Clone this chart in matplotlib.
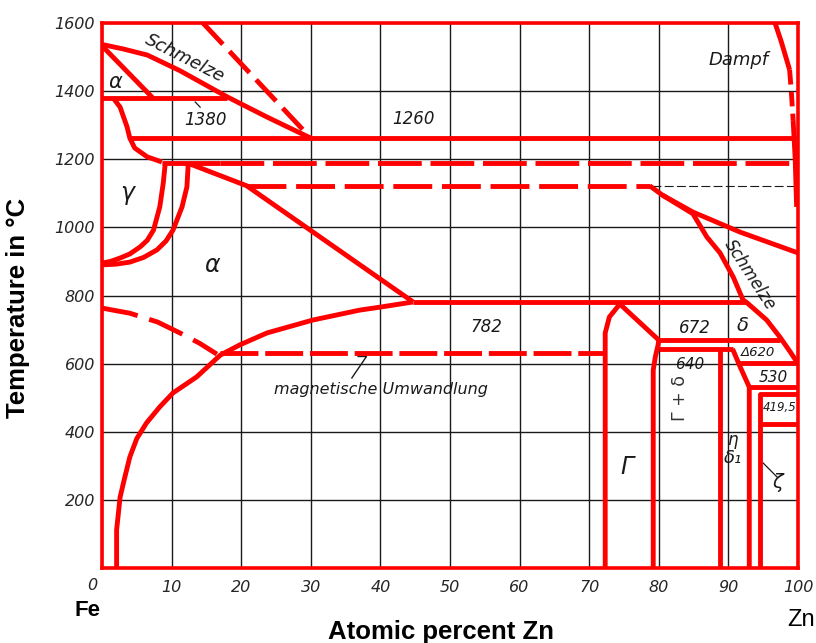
import matplotlib
matplotlib.use('Agg')
import matplotlib.pyplot as plt

RED = '#ff0000'
INK = '#1a1a1a'

# phase boundaries as (atomic % Zn, temperature in C)
liquidus_fe = [(0, 1537), (3, 1524), (6.5, 1506), (11.2, 1460), (18, 1383), (23.7, 1324), (30, 1262)]
delta_solidus = [(0, 1533), (7.3, 1380)]
line_1380 = [(0, 1380), (18, 1380)]
delta_gamma = [(1.6, 1380), (2.6, 1353), (3.6, 1295), (4.0, 1262), (4.7, 1233),
               (6.5, 1207), (8.6, 1192)]
line_1260 = [(4.1, 1262), (100, 1262)]
line_1190_solid = [(8.6, 1190), (17, 1190)]
line_1190_dash = [(17, 1190), (99.5, 1190)]
gamma_left = [(9.1, 1190), (8.8, 1130), (8.3, 1060), (7.4, 992), (6.5, 962), (5.5, 943),
              (4, 922), (2.6, 910), (1.2, 900), (0, 895)]
gamma_right = [(12.4, 1190), (12.2, 1119), (11.5, 1060), (10.2, 992), (9.2, 960), (7.9, 934),
               (6, 912), (4.0, 898), (2, 892), (0, 890)]
alpha_upper = [(12.4, 1188), (20.8, 1122), (44.7, 781)]
line_1120_dash = [(20.8, 1122), (78.7, 1122)]
melt_upper = [(78.7, 1122), (80.5, 1095), (84.9, 1045), (91.7, 986), (100, 925)]
melt_lower = [(80.5, 1095), (84.9, 1040), (86.9, 972), (88.8, 925), (90.7, 854), (92.1, 787),
              (92.6, 780), (95.5, 728), (97.4, 678), (98.9, 634), (99.9, 603)]
line_782 = [(44.7, 781), (92.6, 781)]
alpha_solvus = [(44.7, 781), (40, 766), (37, 757), (30.3, 728), (23.7, 690), (19.8, 655), (17, 625),
                (13.6, 561), (10.2, 514), (8.3, 473), (6.4, 426), (5, 380), (4, 326), (3.2, 260),
                (2.6, 208), (2.3, 150), (2.1, 112), (2.1, 0)]
magnetic_curve = [(0, 763), (4, 748), (8, 722), (11.2, 690), (14, 660), (16.5, 628)]
magnetic_line = [(17, 630), (72.3, 630)]
gamma_left_edge = [(72.3, 0), (72.3, 690), (72.9, 737), (74.4, 775), (80.0, 669)]
gamma_right_edge = [(79.2, 0), (79.2, 581), (79.5, 620), (79.9, 655), (80.0, 669)]
line_672 = [(80.0, 669), (97.4, 669)]
line_640 = [(80.0, 643), (90.6, 643)]
delta1_left = [(88.8, 0), (88.8, 643)]
delta1_right = [(90.6, 643), (91.7, 590), (93.0, 531), (93.0, 0)]
line_620 = [(91.3, 603), (100, 603)]
line_530 = [(93.0, 530), (100, 530)]
zeta_edge = [(94.6, 0), (94.6, 512), (100, 512)]
line_419 = [(94.6, 424), (100, 424)]
vapour_top = [(96.7, 1600), (97.6, 1545), (98.4, 1490), (98.8, 1462)]
vapour_dash = [(98.8, 1462), (99.1, 1380), (99.3, 1315)]
vapour_low = [(99.3, 1315), (99.6, 1200), (99.8, 1060)]
upper_dash = [(14.5, 1600), (30, 1262)]

x_ticks = [10, 20, 30, 40, 50, 60, 70, 80, 90, 100]
y_ticks = [200, 400, 600, 800, 1000, 1200, 1400, 1600]


def draw(ax, pts, ls='-', lw=3.5, color=RED):
    xs, ys = zip(*pts)
    ax.plot(xs, ys, color=color, lw=lw, linestyle=ls, solid_capstyle='butt',
            dash_capstyle='butt', zorder=3)


fig = plt.figure(figsize=(8.16, 6.43), dpi=100)
ax = fig.add_axes([102 / 816, 1 - 568 / 643, 696 / 816, 545 / 643])
ax.set_xlim(0, 100)
ax.set_ylim(0, 1600)

ax.set_xticks(range(0, 101, 10))
ax.set_xticklabels([''] + [str(v) for v in x_ticks])
ax.set_yticks(range(0, 1601, 200))
ax.set_yticklabels([''] + [str(v) for v in y_ticks])
ax.tick_params(length=0, labelsize=11.5, labelcolor='#262626')
ax.tick_params(axis='x', pad=9)
ax.tick_params(axis='y', pad=5)
for lab in ax.get_xticklabels() + ax.get_yticklabels():
    lab.set_fontstyle('italic')
ax.grid(True, color=INK, lw=1.0)
ax.set_axisbelow(True)
for sp in ax.spines.values():
    sp.set_color(RED)
    sp.set_linewidth(2.6)
ax.text(-1.4, -50, '0', ha='center', va='center', fontsize=11.5, style='italic',
        color='#262626', clip_on=False)

# solid boundaries
for pts in [liquidus_fe, delta_solidus, line_1380, delta_gamma, line_1260, line_1190_solid,
            gamma_left, gamma_right, alpha_upper, melt_upper, melt_lower, line_782,
            alpha_solvus, gamma_left_edge, gamma_right_edge, line_672, line_640,
            delta1_left, delta1_right, line_620, line_530, zeta_edge, line_419,
            vapour_top, vapour_low]:
    draw(ax, pts)

# dashed boundaries
draw(ax, line_1190_dash, ls=(0, (9, 1.8)))
draw(ax, line_1120_dash, ls=(0, (8, 2)))
draw(ax, magnetic_curve, ls=(0, (7.5, 2.5)))
draw(ax, magnetic_line, ls=(0, (7.8, 1.4)))
draw(ax, upper_dash, ls=(0, (6, 2)))
draw(ax, vapour_dash, ls=(0, (3, 1.5)))
ax.plot([79, 100], [1122, 1122], color=INK, lw=0.8, ls=(0, (8, 3)), zorder=2)

# leader strokes
ax.plot([13.4, 14.1], [1368, 1353], color=INK, lw=0.9, zorder=2)
ax.plot([36.8, 38.0, 35.9], [621, 621, 558], color=INK, lw=1.0, zorder=2)
ax.plot([95.0, 97.0], [308, 267], color=INK, lw=0.9, zorder=2)

# region labels
lab = dict(color=INK, style='italic', ha='center', va='center', zorder=4)
ax.text(11.9, 1497, 'Schmelze', fontsize=13, rotation=-27, **lab)
ax.text(1.9, 1427, 'α', fontsize=15, **lab)
ax.text(14.8, 1315, '1380', fontsize=12, **lab)
ax.text(44.7, 1318, '1260', fontsize=12, **lab)
ax.text(91.4, 1491, 'Dampf', fontsize=13, **lab)
ax.text(3.6, 1101, 'γ', fontsize=17, **lab)
ax.text(15.8, 890, 'α', fontsize=17, **lab)
ax.text(93.1, 860, 'Schmelze', fontsize=12, rotation=-57, **lab)
ax.text(55.3, 708, '782', fontsize=12, **lab)
ax.text(40.1, 523, 'magnetische Umwandlung', fontsize=11.5, **lab)
ax.text(75.4, 297, 'Γ', fontsize=17, **lab)
ax.text(85.2, 705, '672', fontsize=12, **lab)
ax.text(92.0, 713, 'δ', fontsize=14, **lab)
ax.text(94.3, 634, 'Δ620', fontsize=9.5, **lab)
ax.text(96.4, 558, '530', fontsize=11, **lab)
ax.text(97.4, 470, '419,5', fontsize=8.5, **lab)
ax.text(84.5, 596, '640', fontsize=11, **lab)
ax.text(90.5, 376, 'η', fontsize=12, **lab)
ax.text(90.7, 323, 'δ₁', fontsize=13, **lab)
ax.text(97.1, 252, 'ζ', fontsize=14, **lab)
ax.text(83.0, 500, 'Γ + δ', fontsize=12.5, rotation=90, color='#333333',
        ha='center', va='center', zorder=4)

# axis captions
bold = dict(family='Liberation Sans', fontweight='bold', ha='center', va='center')
fig.text(18 / 816, 1 - 308 / 643, 'Temperature in °C', rotation=90, fontsize=18.5, **bold)
fig.text(441 / 816, 1 - 632 / 643, 'Atomic percent Zn', fontsize=18.5, **bold)
fig.text(87 / 816, 1 - 610 / 643, 'Fe', fontsize=16, **bold)
fig.text(801 / 816, 1 - 620 / 643, 'Zn', fontsize=17, family='Liberation Sans',
         ha='center', va='center')

fig.savefig('out.png', dpi=100)
